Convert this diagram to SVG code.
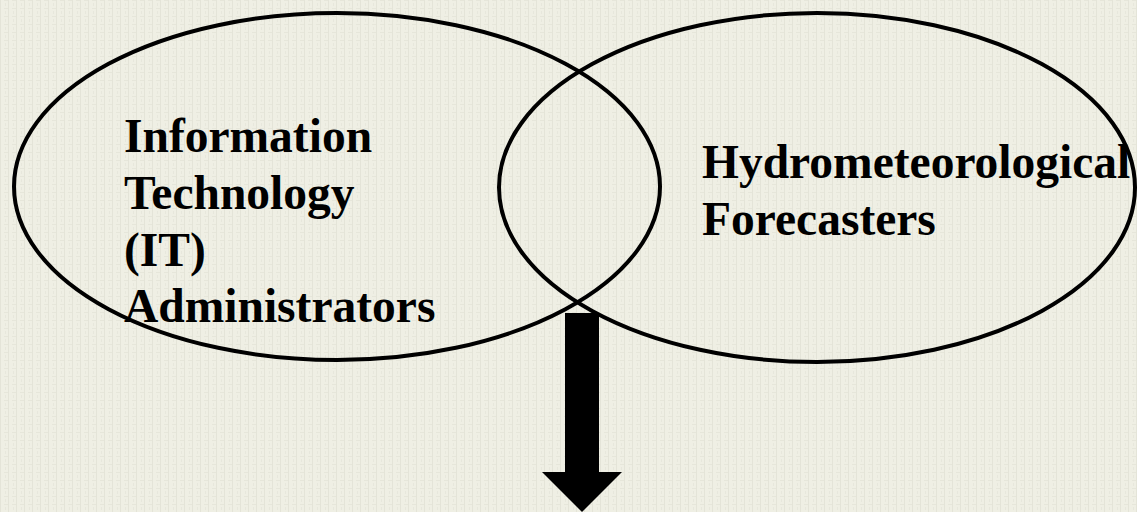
<svg xmlns="http://www.w3.org/2000/svg" width="1137" height="512" viewBox="0 0 1137 512">
  <defs>
    <pattern id="tex" width="8" height="8" patternUnits="userSpaceOnUse">
      <rect width="8" height="8" fill="#EFEFE4"/>
      <rect x="0" y="0" width="1" height="8" fill="#E4E4D8"/>
      <rect x="4" y="0" width="8" height="1" fill="#E6E6DA"/>
      <rect x="5" y="3" width="1" height="3" fill="#E7E7DC"/>
    </pattern>
    <style>
      .venn { fill: none; stroke: #000; stroke-width: 4; }
      .lbl { font-family: "Liberation Serif", "Times New Roman", serif; font-weight: bold; font-size: 47.5px; fill: #000; }
      .arrow { fill: #000; stroke: none; }
    </style>
  </defs>
  <rect width="1137" height="512" fill="url(#tex)"/>
  <g id="node-it">
    <ellipse class="venn" cx="337" cy="186.5" rx="323" ry="173.5"/>
    <text class="lbl">
      <tspan x="124" y="152">Information</tspan>
      <tspan x="124" y="208.5">Technology</tspan>
      <tspan x="124" y="265.5">(IT)</tspan>
      <tspan x="124" y="322">Administrators</tspan>
    </text>
  </g>
  <g id="node-forecasters">
    <ellipse class="venn" cx="817" cy="187.5" rx="318" ry="174.5"/>
    <text class="lbl">
      <tspan x="702" y="178">Hydrometeorological</tspan>
      <tspan x="702" y="235">Forecasters</tspan>
    </text>
  </g>
  <g id="connectors">
    <polygon class="arrow" points="565,313 599,313 599,472 622,472 582,512 542,472 565,472"/>
  </g>
</svg>
